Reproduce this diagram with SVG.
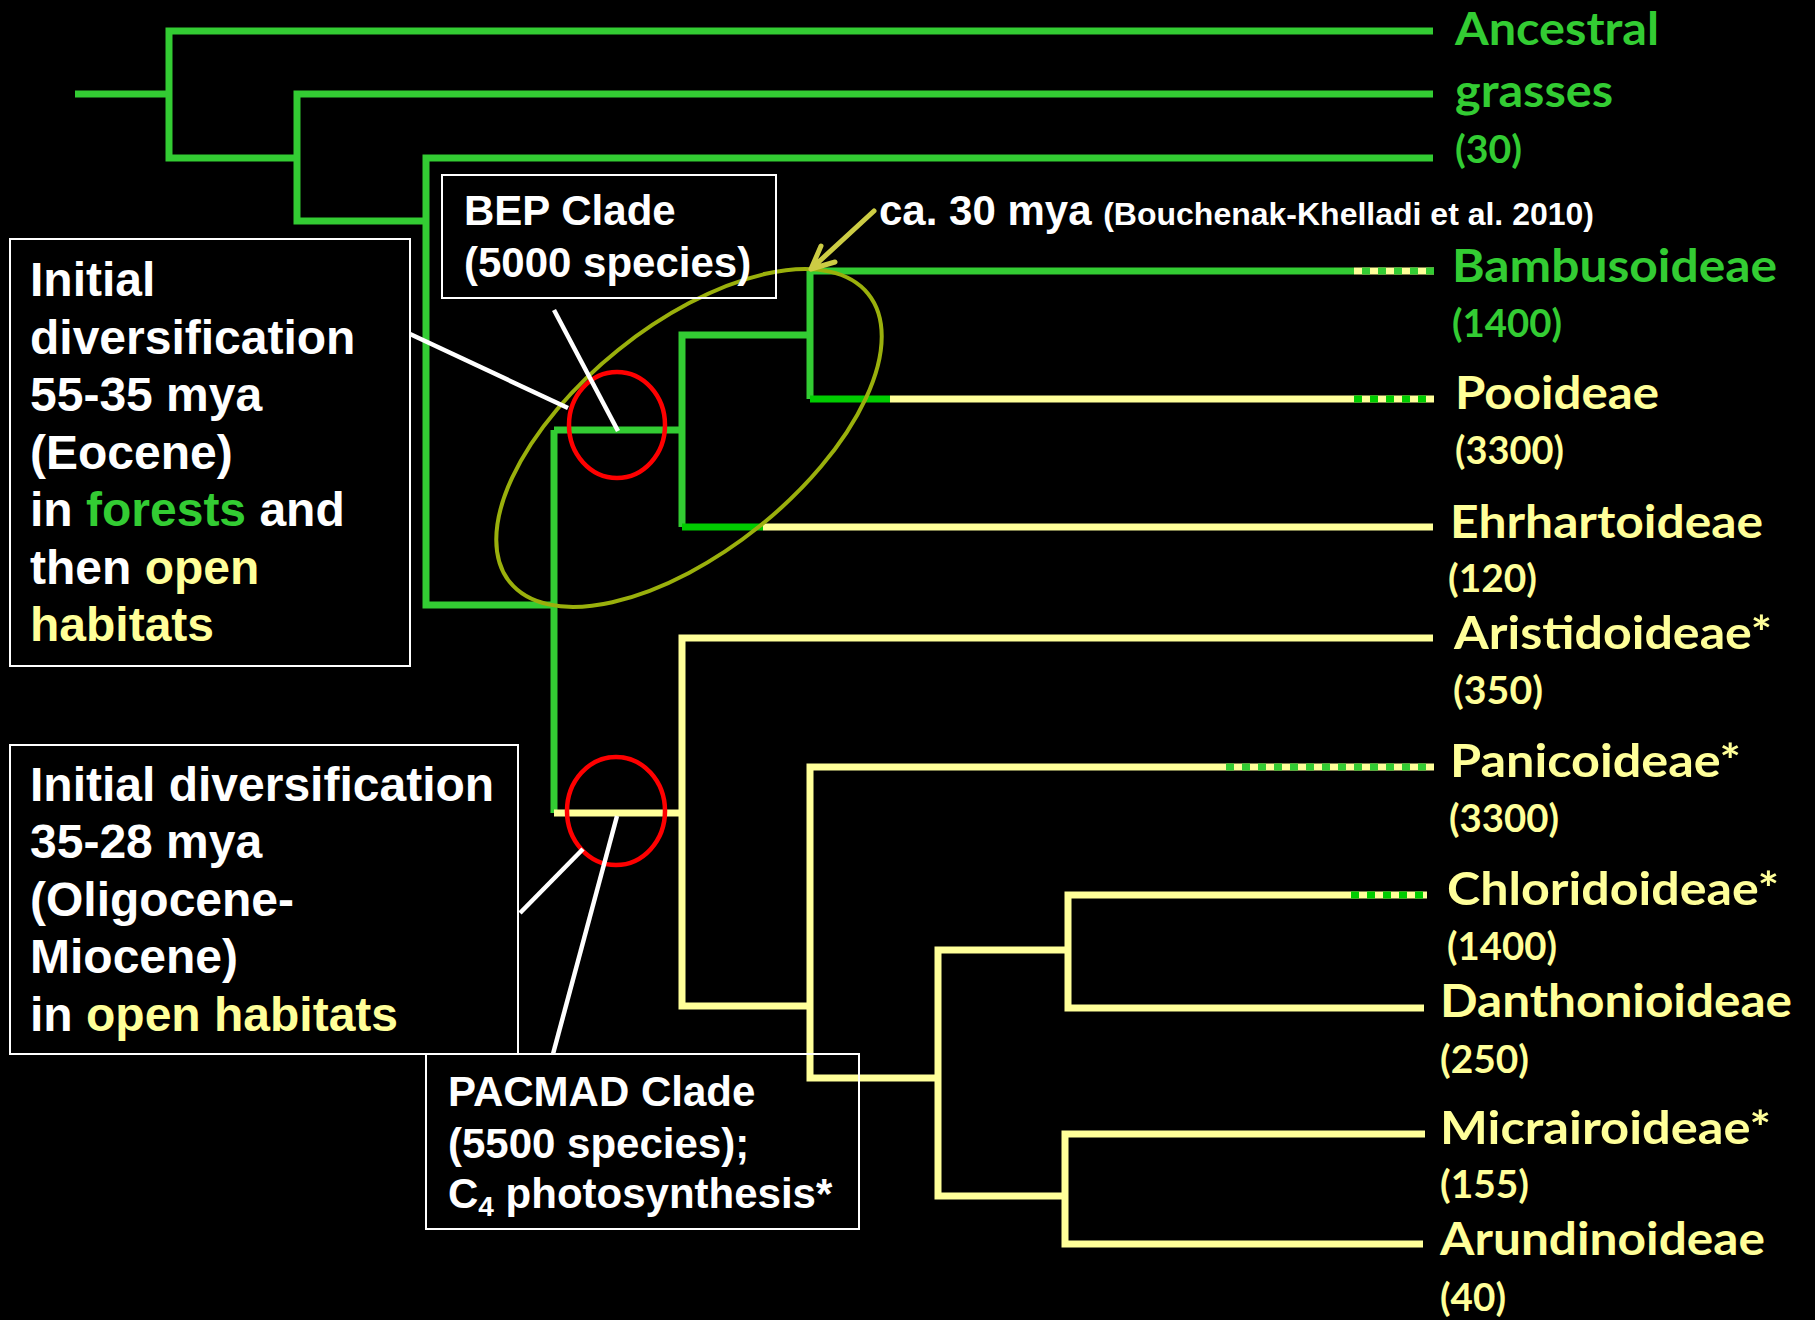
<svg xmlns="http://www.w3.org/2000/svg" width="1815" height="1320" viewBox="0 0 1815 1320">
<style>
.g{fill:none;stroke:#33CC33;stroke-width:7;stroke-linejoin:miter;stroke-linecap:butt}
.g2{fill:none;stroke:#00CC00;stroke-width:7;stroke-linecap:butt}
.y{fill:none;stroke:#FFFF99;stroke-width:7;stroke-linejoin:miter;stroke-linecap:butt}
.dg{fill:none;stroke:#33CC33;stroke-width:7;stroke-dasharray:8 8}
.dg2{fill:none;stroke:#00CC00;stroke-width:7;stroke-dasharray:8 8}
.box{fill:none;stroke:#FFFFFF;stroke-width:2}
.bt{font-family:"Liberation Sans",Arial,sans-serif;font-weight:bold;fill:#FFFFFF}
.lab{font-family:Lato,"Open Sans",sans-serif;font-weight:bold;font-size:46px}
.cnt{font-family:Lato,"Open Sans",sans-serif;font-weight:bold;font-size:39px}
.gt{fill:#33CC33}
.yt{fill:#FFFF99}
.ptr{stroke:#FFFFFF;stroke-width:4.5;fill:none}
.red{fill:none;stroke:#FF0000;stroke-width:4.5}
</style>
<rect width="1815" height="1320" fill="#000000"/>

<g id="connectors">
  <path class="g" d="M75,94 H169"/>
  <path class="g" d="M1433,31 H169 V158 H297"/>
  <path class="g" d="M1433,94 H297 V221 H426"/>
  <path class="g" d="M1433,158 H426 V605 H554"/>
  <path class="g" d="M554,430 V813"/>
  <path class="g" d="M554,430 H682"/>
  <path class="g" d="M810,335 H682 V527"/>
  <path class="g" d="M1354,271 H810 V399"/>
  <path class="g2" d="M810,399 H890"/>
  <path class="y" d="M890,399 H1354"/>
  <path class="g2" d="M682,527 H763"/>
  <path class="y" d="M763,527 H1433"/>
  <path class="y" d="M1354,271 H1434"/>
  <path class="dg" d="M1362,271 H1434"/>
  <path class="y" d="M1354,399 H1434"/>
  <path class="dg2" d="M1354,399 H1434"/>
  <path class="y" d="M554,813 H682"/>
  <path class="y" d="M1433,638 H682 V1006 H810"/>
  <path class="y" d="M1434,767 H810 V1078 H938"/>
  <path class="dg" d="M1226,767 H1434"/>
  <path class="y" d="M1427,895 H1068 V1008 H1424"/>
  <path class="dg2" d="M1351,895 H1427"/>
  <path class="y" d="M1068,950 H938 V1196 H1065"/>
  <path class="y" d="M1425,1134 H1065 V1244 H1423"/>
  <ellipse cx="689" cy="438" rx="230" ry="113" transform="rotate(-38.8 689 438)" fill="none" stroke="#9AB00C" stroke-width="4"/>
  <ellipse class="red" cx="617" cy="425" rx="48" ry="53"/>
  <ellipse class="red" cx="616" cy="811" rx="49" ry="54"/>
  <line class="ptr" x1="410" y1="334" x2="568" y2="408"/>
  <line class="ptr" x1="554" y1="310" x2="618" y2="431"/>
  <line class="ptr" x1="520" y1="913" x2="583" y2="849"/>
  <line class="ptr" x1="553" y1="1054" x2="617" y2="816"/>
  <path d="M874,211 L811,269 M821,246 L811,269 L835,262" fill="none" stroke="#CCCC44" stroke-width="5" stroke-linecap="round" stroke-linejoin="round"/>
</g>

<g id="box-bep-initial">
  <rect class="box" x="10" y="239" width="400" height="427"/>
  <text class="bt" font-size="48" x="30" y="296">Initial</text>
  <text class="bt" font-size="48" x="30" y="354">diversification</text>
  <text class="bt" font-size="48" x="30" y="411">55-35 mya</text>
  <text class="bt" font-size="48" x="30" y="469">(Eocene)</text>
  <text class="bt" font-size="48" x="30" y="526">in <tspan fill="#33CC33">forests</tspan> and</text>
  <text class="bt" font-size="48" x="30" y="584">then <tspan fill="#FFFF99">open</tspan></text>
  <text class="bt" font-size="48" x="30" y="641" style="fill:#FFFF99">habitats</text>
</g>

<g id="box-bep">
  <rect class="box" x="442" y="175" width="334" height="123"/>
  <text class="bt" font-size="42" x="464" y="225">BEP Clade</text>
  <text class="bt" font-size="42" x="464" y="277">(5000 species)</text>
</g>

<g id="box-pacmad-initial">
  <rect class="box" x="10" y="745" width="508" height="309"/>
  <text class="bt" font-size="48" x="30" y="801">Initial diversification</text>
  <text class="bt" font-size="48" x="30" y="858">35-28 mya</text>
  <text class="bt" font-size="48" x="30" y="916">(Oligocene-</text>
  <text class="bt" font-size="48" x="30" y="973">Miocene)</text>
  <text class="bt" font-size="48" x="30" y="1031">in <tspan fill="#FFFF99">open habitats</tspan></text>
</g>

<g id="box-pacmad">
  <rect class="box" x="426" y="1054" width="433" height="175"/>
  <text class="bt" font-size="42" x="448" y="1106">PACMAD Clade</text>
  <text class="bt" font-size="42" x="448" y="1158">(5500 species);</text>
  <text class="bt" font-size="42" x="448" y="1208">C<tspan font-size="28" dy="8">4</tspan><tspan dy="-8"> photosynthesis*</tspan></text>
</g>

<g id="date-note">
  <text class="bt" font-size="42" x="879" y="225">ca. 30 mya <tspan font-size="32">(Bouchenak-Khelladi et al. 2010)</tspan></text>
</g>

<g id="ancestral">
  <text class="lab gt" x="1455" y="45" textLength="204" lengthAdjust="spacingAndGlyphs">Ancestral</text>
  <text class="lab gt" x="1455" y="107" textLength="158" lengthAdjust="spacingAndGlyphs">grasses</text>
  <text class="cnt gt" x="1455" y="163" textLength="67" lengthAdjust="spacingAndGlyphs">(30)</text>
</g>
<g id="bambusoideae">
  <text class="lab gt" x="1452" y="282" textLength="325" lengthAdjust="spacingAndGlyphs">Bambusoideae</text>
  <text class="cnt gt" x="1452" y="337" textLength="110" lengthAdjust="spacingAndGlyphs">(1400)</text>
</g>
<g id="pooideae">
  <text class="lab yt" x="1455" y="409" textLength="204" lengthAdjust="spacingAndGlyphs">Pooideae</text>
  <text class="cnt yt" x="1455" y="464" textLength="109" lengthAdjust="spacingAndGlyphs">(3300)</text>
</g>
<g id="ehrhartoideae">
  <text class="lab yt" x="1450" y="538" textLength="313" lengthAdjust="spacingAndGlyphs">Ehrhartoideae</text>
  <text class="cnt yt" x="1448" y="592" textLength="89" lengthAdjust="spacingAndGlyphs">(120)</text>
</g>
<g id="aristidoideae">
  <text class="lab yt" x="1454" y="649" textLength="318" lengthAdjust="spacingAndGlyphs">Aristidoideae*</text>
  <text class="cnt yt" x="1453" y="704" textLength="90" lengthAdjust="spacingAndGlyphs">(350)</text>
</g>
<g id="panicoideae">
  <text class="lab yt" x="1450" y="777" textLength="291" lengthAdjust="spacingAndGlyphs">Panicoideae*</text>
  <text class="cnt yt" x="1449" y="832" textLength="110" lengthAdjust="spacingAndGlyphs">(3300)</text>
</g>
<g id="chloridoideae">
  <text class="lab yt" x="1447" y="905" textLength="332" lengthAdjust="spacingAndGlyphs">Chloridoideae*</text>
  <text class="cnt yt" x="1447" y="960" textLength="110" lengthAdjust="spacingAndGlyphs">(1400)</text>
</g>
<g id="danthonioideae">
  <text class="lab yt" x="1440" y="1017" textLength="352" lengthAdjust="spacingAndGlyphs">Danthonioideae</text>
  <text class="cnt yt" x="1440" y="1073" textLength="89" lengthAdjust="spacingAndGlyphs">(250)</text>
</g>
<g id="micrairoideae">
  <text class="lab yt" x="1440" y="1144" textLength="331" lengthAdjust="spacingAndGlyphs">Micrairoideae*</text>
  <text class="cnt yt" x="1440" y="1198" textLength="89" lengthAdjust="spacingAndGlyphs">(155)</text>
</g>
<g id="arundinoideae">
  <text class="lab yt" x="1440" y="1255" textLength="325" lengthAdjust="spacingAndGlyphs">Arundinoideae</text>
  <text class="cnt yt" x="1440" y="1311" textLength="66" lengthAdjust="spacingAndGlyphs">(40)</text>
</g>
</svg>
